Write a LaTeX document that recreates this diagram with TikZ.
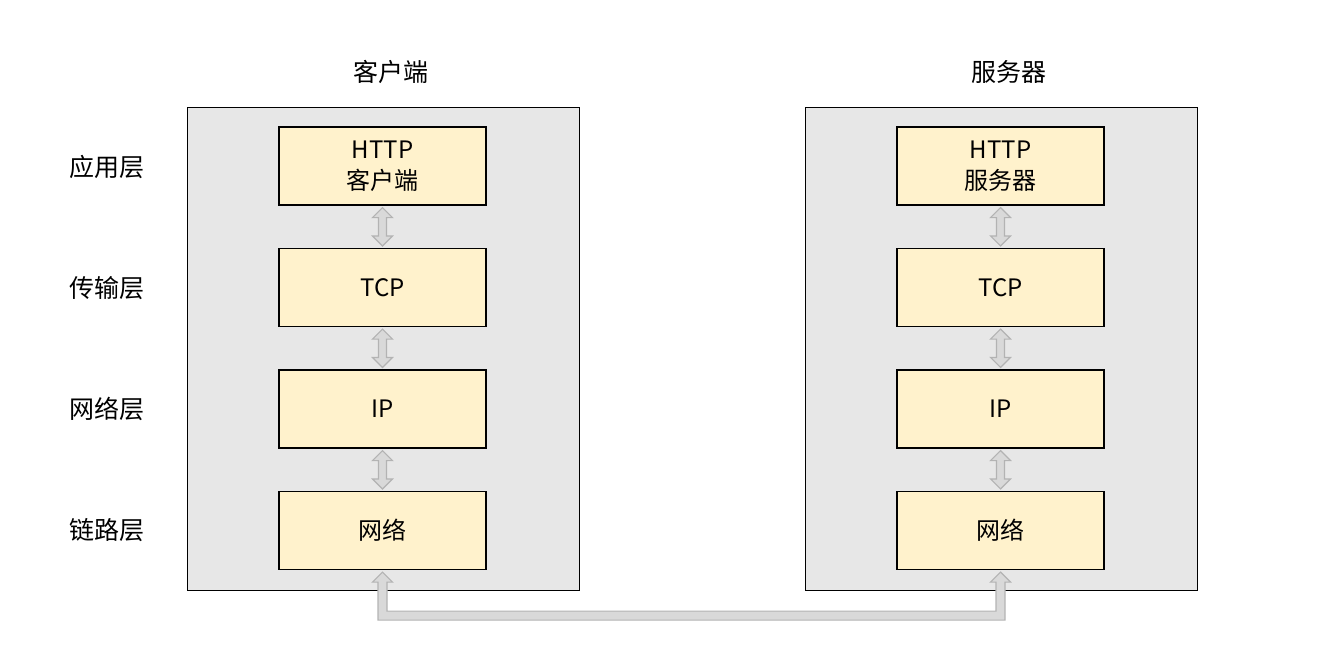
\documentclass[tikz,border=0pt]{standalone}
\usepackage{fontspec}
\setmainfont{Noto Sans CJK SC}
\usetikzlibrary{calc}
\definecolor{panel}{HTML}{E7E7E7}
\definecolor{cell}{HTML}{FFF2CC}
\definecolor{arrfill}{HTML}{D9D9D9}
\definecolor{arrline}{HTML}{B3B3B3}
\tikzset{
  panelbox/.style={draw=black, line width=0.5pt, fill=panel, minimum width=196pt, minimum height=241.5pt, inner sep=0pt},
  cellbox/.style={draw=black, line width=0.6pt, fill=cell, minimum width=103.5pt, minimum height=39pt, inner sep=0pt, align=center, font=\fontsize{12pt}{15.5pt}\selectfont},
  lbl/.style={font=\fontsize{12.5pt}{15pt}\selectfont, inner sep=0pt},
  fat/.style={fill=arrfill, draw=arrline, line width=0.6pt, line join=miter},
}
\newcommand{\dblarrow}[2]{%
  \draw[fat] let \p1=(#1.south), \p2=(#2.north) in
    (\x1,\y1-1pt) -- ++(5pt,-5pt) -- ++(-3pt,0) -- (\x1+2pt,\y2+6pt) -- ++(3pt,0)
    -- (\x1,\y2+1pt) -- ++(-5pt,5pt) -- ++(3pt,0) -- (\x1-2pt,\y1-6pt) -- ++(-3pt,0) -- cycle;}
\begin{document}
\begin{tikzpicture}[x=0.5pt,y=-0.5pt]
\useasboundingbox (0,0) rectangle (1338,665);
\node[panelbox] (LP) at (383,348.5) {};
\node[panelbox] (RP) at (1001,348.5) {};
\node[lbl] (LT) at (391,72) {客户端};
\node[lbl] (RT) at (1009,72) {服务器};
\node[lbl] (A) at (107,167) {应用层};
\node[lbl] (B) at (107,288) {传输层};
\node[lbl] (C) at (107,409) {网络层};
\node[lbl] (D) at (107,530) {链路层};
\node[cellbox] (L1) at (382.5,166) {HTTP\\客户端};
\node[cellbox] (L2) at (382.5,287.5) {TCP};
\node[cellbox] (L3) at (382.5,409) {IP};
\node[cellbox] (L4) at (382.5,530.5) {网络};
\node[cellbox] (R1) at (1000.5,166) {HTTP\\服务器};
\node[cellbox] (R2) at (1000.5,287.5) {TCP};
\node[cellbox] (R3) at (1000.5,409) {IP};
\node[cellbox] (R4) at (1000.5,530.5) {网络};
\dblarrow{L1}{L2}
\dblarrow{L2}{L3}
\dblarrow{L3}{L4}
\dblarrow{R1}{R2}
\dblarrow{R2}{R3}
\dblarrow{R3}{R4}
\draw[fat] let \p1=(L4.south), \p2=(R4.south) in
  (\x1,\y1-1pt) -- ++(5pt,-5pt) -- ++(-2.75pt,0) -- (\x1+2.25pt,\y1-20.5pt)
  -- (\x2-2.25pt,\y1-20.5pt) -- (\x2-2.25pt,\y2-6pt) -- ++(-2.75pt,0)
  -- (\x2,\y2-1pt) -- ++(5pt,-5pt) -- ++(-2.75pt,0) -- (\x2+2.25pt,\y1-25pt)
  -- (\x1-2.25pt,\y1-25pt) -- (\x1-2.25pt,\y1-6pt) -- ++(-2.75pt,0) -- cycle;
\end{tikzpicture}
\end{document}
